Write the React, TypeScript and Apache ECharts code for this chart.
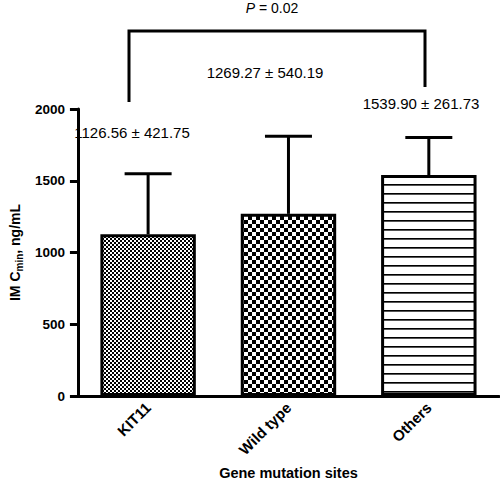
import React, { useEffect, useRef } from "react";
import * as echarts from "echarts";

const categories = ["KIT11", "Wild type", "Others"];
const means = [1126.56, 1269.27, 1539.9];
const sds = [421.75, 540.19, 261.73];
const yTicks = { min: 0, max: 2000, interval: 500 };
const pValueText = "0.02";

function makePattern(kind: string) {
  const c = document.createElement("canvas");
  const ctx = c.getContext("2d")!;
  if (kind === "fine") {
    c.width = 4; c.height = 4;
    ctx.fillStyle = "#fff"; ctx.fillRect(0, 0, 4, 4);
    ctx.fillStyle = "#000"; ctx.fillRect(0, 0, 2, 2); ctx.fillRect(2, 2, 2, 2);
  } else if (kind === "coarse") {
    c.width = 8; c.height = 8;
    ctx.fillStyle = "#fff"; ctx.fillRect(0, 0, 8, 8);
    ctx.fillStyle = "#000"; ctx.fillRect(0, 0, 4, 4); ctx.fillRect(4, 4, 4, 4);
  } else {
    c.width = 9; c.height = 9;
    ctx.fillStyle = "#fff"; ctx.fillRect(0, 0, 9, 9);
    ctx.fillStyle = "#000"; ctx.fillRect(0, 4, 9, 1);
    ctx.fillStyle = "#555"; ctx.fillRect(0, 5, 9, 1);
  }
  return { image: c, repeat: "repeat", imageWidth: c.width, imageHeight: c.height };
}

const fmt = (m: number, s: number) => `${m.toFixed(2)} \u00b1 ${s.toFixed(2)}`;

export default function App() {
  const ref = useRef<HTMLDivElement>(null);
  useEffect(() => {
    const chart = echarts.init(ref.current!, null, { renderer: "svg" });
    const kinds = ["fine", "coarse", "lines"];
    const font = "'Liberation Sans', Arial, sans-serif";
    chart.setOption({
      animation: false,
      grid: { left: 70, right: 1, top: 109, bottom: 92 },
      xAxis: {
        type: "category",
        data: categories,
        axisLine: { lineStyle: { color: "#000", width: 3 } },
        axisTick: { alignWithLabel: true, length: 6, lineStyle: { color: "#000", width: 3 } },
        axisLabel: { rotate: 45, margin: 9, color: "#000", fontWeight: "bold", fontSize: 15, fontFamily: font },
        name: "Gene mutation sites",
        nameLocation: "middle",
        nameGap: 69,
        nameTextStyle: { color: "#000", fontWeight: "bold", fontSize: 14.5, fontFamily: font },
      },
      yAxis: {
        type: "value",
        min: yTicks.min,
        max: yTicks.max,
        interval: yTicks.interval,
        splitLine: { show: false },
        axisLine: { show: true, lineStyle: { color: "#000", width: 3 } },
        axisTick: { show: true, length: 8, lineStyle: { color: "#000", width: 3 } },
        axisLabel: { margin: 13, color: "#000", fontWeight: "bold", fontSize: 13.5, fontFamily: font, formatter: (v: number) => String(v) },
        name: "{a|IM C}{s|min}{a|, ng/mL}",
        nameLocation: "middle",
        nameGap: 47,
        nameTextStyle: {
          color: "#000",
          fontFamily: font,
          rich: {
            a: { fontWeight: "bold", fontSize: 14, fontFamily: font, color: "#000" },
            s: { fontWeight: "bold", fontSize: 10, fontFamily: font, color: "#000", verticalAlign: "bottom", padding: [8, 0, 0, 0] },
          },
        },
      },
      series: [
        {
          type: "custom",
          z: 1,
          clip: false,
          data: means.map((m, i) => [i, m, sds[i]]),
          renderItem: (params: any, api: any) => {
            const x = api.value(0), m = api.value(1), s = api.value(2);
            const base = api.coord([x, m]);
            const top = api.coord([x, m + s]);
            const hw = 23.5;
            const style = { stroke: "#000", lineWidth: 3 };
            return {
              type: "group",
              children: [
                { type: "line", shape: { x1: base[0], y1: base[1], x2: top[0], y2: top[1] }, style },
                { type: "line", shape: { x1: top[0] - hw, y1: top[1], x2: top[0] + hw, y2: top[1] }, style },
              ],
            };
          },
        },
        {
          type: "bar",
          z: 2,
          barWidth: "68%",
          data: means.map((m, i) => ({
            value: m,
            itemStyle: { color: makePattern(kinds[i]), borderColor: "#000", borderWidth: 3 },
          })),
        },
      ],
      graphic: [
        {
          type: "polyline",
          shape: { points: [[129, 102], [129, 31], [425, 31], [425, 87]] },
          style: { stroke: "#000", lineWidth: 3, fill: null, lineJoin: "miter" },
        },
        {
          type: "text",
          x: 272, y: 8,
          style: {
            text: `{i|P} = ${pValueText}`,
            align: "center", verticalAlign: "middle",
            fontSize: 14, fontFamily: font, fill: "#000",
            rich: { i: { fontStyle: "italic", fontSize: 14, fontFamily: font } },
          },
        },
        {
          type: "text", x: 265, y: 72,
          style: { text: fmt(means[1], sds[1]), align: "center", verticalAlign: "middle", fontSize: 15, fontFamily: font, fill: "#000" },
        },
        {
          type: "text", x: 421, y: 103,
          style: { text: fmt(means[2], sds[2]), align: "center", verticalAlign: "middle", fontSize: 15, fontFamily: font, fill: "#000" },
        },
        {
          type: "text", x: 132, y: 132,
          style: { text: fmt(means[0], sds[0]), align: "center", verticalAlign: "middle", fontSize: 15, fontFamily: font, fill: "#000" },
        },
      ],
    });
    return () => chart.dispose();
  }, []);
  return <div ref={ref} style={{ width: 500, height: 488, position: "absolute", left: 0, top: 0 }} />;
}
